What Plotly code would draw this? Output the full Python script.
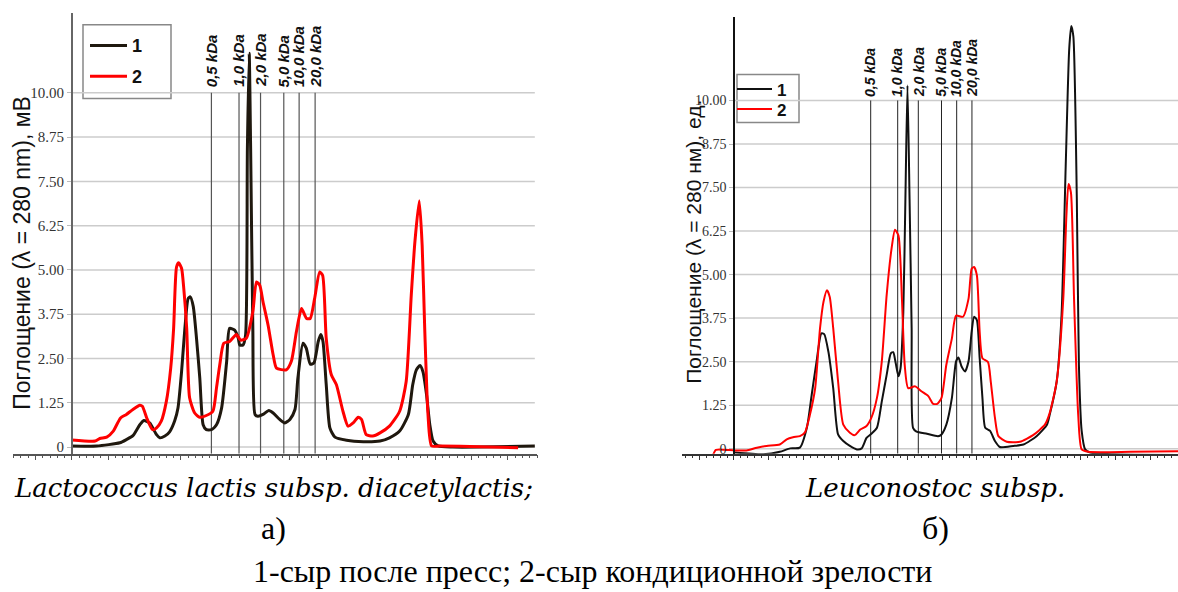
import plotly.graph_objects as go

W, H = 1178, 592

# ---- chromatogram data: retention (min) vs absorbance ----
# Lactococcus lactis subsp. diacetylactis
t_left_1 = [0, 3.4, 6.6, 7.5, 8.4, 9.35, 9.9, 10.7, 11.65, 12.1, 12.8, 13.45, 14.15, 14.6, 15.1,
            15.55, 16.0, 16.3, 16.7, 17.15, 17.6, 18.06, 18.5, 19.2, 19.9, 20.6, 21.3, 21.7, 22.4,
            22.9, 23.1, 23.55, 23.9, 24.15, 24.4, 24.6, 24.9, 25.2, 25.6, 26.3, 27.1, 27.7, 28.6,
            29.3, 30.0, 30.7, 31.1, 31.8, 32.25, 32.8, 33.3, 33.9, 34.25, 34.55, 35.0, 35.5, 36.2,
            37.8, 40.1, 42.4, 43.7, 45.1, 46.3, 46.9, 47.4, 47.9, 48.3, 48.8, 49.25, 49.7, 50.4,
            52.4, 56.1, 63.7]
a_left_1 = [0.03, 0.03, 0.12, 0.21, 0.32, 0.63, 0.75, 0.68, 0.35, 0.26, 0.31, 0.43, 0.74, 1.10, 2.14,
            3.35, 4.19, 4.24, 3.97, 3.07, 1.95, 0.63, 0.49, 0.49, 0.63, 1.10, 2.42, 3.35, 3.30,
            3.07, 2.88, 2.88, 3.16, 8.4, 11.12, 8.4, 3.35, 0.92, 0.87, 0.92, 1.03, 0.96, 0.78,
            0.68, 0.78, 1.06, 1.95, 2.93, 2.79, 2.34, 2.37, 2.98, 3.18, 2.98, 1.76, 0.54, 0.28,
            0.19, 0.15, 0.17, 0.26, 0.45, 0.92, 1.76, 2.18, 2.30, 2.13, 1.48, 0.63, 0.17, 0.03,
            0.0, 0.0, 0.03]

t_left_2 = [0, 3.2, 3.85, 4.8, 5.7, 6.7, 7.5, 8.4, 9.35, 9.7, 10.3, 11.1, 11.65, 12.3, 13.0, 13.6,
            14.0, 14.4, 14.7, 15.1, 15.4, 15.8, 16.2, 16.9, 17.6, 18.5, 19.4, 19.9, 20.35, 20.9,
            21.7, 22.65, 23.2, 24.0, 24.9, 25.4, 25.85, 26.3, 27.0, 27.7, 28.15, 29.5, 30.2, 30.9,
            31.6, 32.3, 32.8, 33.4, 34.1, 34.5, 35.0, 35.7, 36.4, 37.3, 38.0, 38.7, 39.4, 39.85,
            40.5, 41.4, 42.4, 43.7, 45.1, 46.0, 46.7, 47.2, 47.8, 48.2, 48.55, 49.0, 49.5, 50.6,
            56.1, 61.4]
a_left_2 = [0.20, 0.17, 0.24, 0.28, 0.45, 0.82, 0.92, 1.06, 1.18, 1.15, 0.82, 0.49, 0.54, 0.73, 1.29, 2.23,
            3.35, 5.08, 5.20, 5.04, 4.47, 3.35, 1.39, 0.96, 0.84, 0.89, 1.01, 1.67, 2.32, 2.93,
            2.98, 3.18, 3.02, 3.07, 3.82, 4.66, 4.57, 4.10, 3.44, 2.60, 2.23, 2.18, 2.42, 3.26,
            3.91, 3.63, 3.63, 4.19, 4.94, 4.85, 3.07, 2.04, 1.76, 1.01, 0.59, 0.68, 0.84, 0.78,
            0.35, 0.31, 0.40, 0.59, 1.01, 1.85, 4.29, 5.79, 6.95, 5.69, 3.35, 0.92, 0.03, 0.03,
            0.01, -0.02]

# Leuconostoc subsp.
t_right_1 = [0.15, 4.2, 6.6, 8.1, 9.5, 10.5, 11.2, 11.9, 12.6, 13.0, 13.6, 14.3, 15.0, 15.75, 16.7,
             17.7, 18.4, 19.1, 19.8, 20.6, 21.3, 22.0, 22.6, 22.95, 23.3, 23.7, 24.0, 24.4, 24.7,
             25.0, 25.3, 25.6, 25.8, 26.3, 27.8, 29.4, 29.9, 30.6, 31.4, 32.0, 32.35, 32.8, 33.3,
             33.8, 34.25, 34.6, 35.0, 35.4, 35.8, 36.2, 36.9, 37.6, 38.3, 40.25, 41.7, 43.6, 45.1,
             45.5, 46.5, 47.2, 47.8, 48.3, 48.6, 48.9, 49.4, 49.7, 50.1, 50.6, 51.3, 54.7, 64.0]
a_right_1 = [-0.11, -0.16, -0.09, 0.01, 0.03, 0.60, 1.55, 2.51, 3.31, 3.29, 2.79, 1.74, 0.41, 0.22, 0.08,
             -0.02, 0.01, 0.31, 0.43, 0.60, 1.36, 2.12, 2.74, 2.77, 2.46, 2.08, 2.31, 3.93, 7.17,
             10.43, 7.17, 3.46, 0.60, 0.49, 0.43, 0.36, 0.41, 0.69, 1.46, 2.51, 2.62, 2.36, 2.22,
             2.51, 3.36, 3.79, 3.69, 2.60, 1.46, 0.60, 0.51, 0.22, 0.05, 0.08, 0.12, 0.36, 0.69,
             0.98, 1.93, 3.84, 8.12, 11.46, 12.14, 11.84, 7.17, 2.41, 0.51, -0.02, -0.11, -0.16, -0.18]

t_right_2 = [-3.0, -2.6, 0.15, 1.8, 3.3, 4.7, 6.6, 7.6, 8.5, 9.5, 10.2, 10.95, 11.7, 12.4, 12.9, 13.4,
             13.8, 14.3, 15.0, 15.75, 16.7, 17.4, 18.2, 19.1, 19.8, 20.6, 21.3, 22.0, 22.7, 23.2,
             23.7, 24.2, 24.6, 25.1, 26.1, 27.0, 28.0, 28.7, 29.3, 29.9, 30.6, 31.4, 32.0, 33.0,
             33.8, 34.25, 34.6, 35.0, 35.4, 35.8, 36.6, 37.0, 37.6, 38.1, 39.3, 41.2, 43.1, 44.8,
             45.5, 46.5, 47.45, 47.9, 48.2, 48.55, 49.0, 49.6, 50.1, 51.05, 57.1, 64.0]
a_right_2 = [-0.17, -0.03, -0.05, -0.05, 0.03, 0.08, 0.12, 0.27, 0.33, 0.36, 0.46, 0.98, 1.74, 3.46, 4.22, 4.55,
             4.36, 3.46, 1.93, 0.69, 0.46, 0.39, 0.55, 0.65, 0.89, 1.46, 2.51, 4.41, 5.74, 6.29,
             6.12, 4.31, 2.41, 1.74, 1.79, 1.65, 1.51, 1.29, 1.29, 1.46, 2.41, 3.17, 3.82, 3.79,
             4.31, 5.17, 5.22, 4.98, 3.36, 2.60, 2.49, 1.93, 0.89, 0.36, 0.20, 0.20, 0.39, 0.69,
             1.03, 1.93, 4.31, 6.69, 7.60, 7.36, 4.31, 0.98, -0.02, -0.09, -0.09, -0.07]

# molecular-mass calibration marks
kda_labels = ["0,5 kDa", "1,0 kDa", "2,0 kDa", "5,0 kDa", "10,0 kDa", "20,0 kDa"]
kda_left = [19.2, 23.0, 25.96, 29.16, 31.27, 33.47]
kda_right = [19.7, 23.59, 26.56, 29.9, 32.09, 34.29]

y_ticks = [0, 1.25, 2.5, 3.75, 5.0, 6.25, 7.5, 8.75, 10.0]
y_tick_text = ["0", "1.25", "2.50", "3.75", "5.00", "6.25", "7.50", "8.75", "10.00"]

series_names = ["1", "2"]
captions = ["Lactococcus lactis subsp. diacetylactis;", "Leuconostoc subsp."]
panel_marks = ["а)", "б)"]
footnote = "1-сыр после пресс; 2-сыр кондиционной зрелости"


def px(x):
    return x / W


def py(y):
    return 1 - y / H


SANS = "Liberation Sans"
SERIF = "Liberation Serif"
SERIF_IT = "DejaVu Serif"

fig = go.Figure()

# ---- traces (one legend per entry so each row can be placed freely) ----
curves = [
    (t_left_1, a_left_1, series_names[0], "#1f180e", 3, "x", "y", "legend"),
    (t_left_2, a_left_2, series_names[1], "#ff0000", 3, "x", "y", "legend2"),
    (t_right_1, a_right_1, series_names[0], "#111111", 2, "x2", "y2", "legend3"),
    (t_right_2, a_right_2, series_names[1], "#ff0000", 2, "x2", "y2", "legend4"),
]
for xs, ys, name, color, width, xa, ya, lg in curves:
    fig.add_trace(go.Scatter(x=xs, y=ys, mode="lines", name=name, showlegend=True,
                             line=dict(color=color, width=width, shape="spline", smoothing=0.6),
                             xaxis=xa, yaxis=ya, legend=lg))

# ---- axes ----
y_dom = [py(456), py(13)]
y2_dom = [py(456), py(17)]

common_x = dict(showgrid=False, zeroline=False, showticklabels=False, showline=True,
                ticks="outside", tick0=0, dtick=5, ticklen=5, tickwidth=1,
                minor=dict(ticks="outside", dtick=1, ticklen=3, tickwidth=1))

fig.update_layout(
    xaxis=dict(domain=[px(13), px(537)], range=[-8.1, 64.0], anchor="y",
               linecolor="#555555", linewidth=1.5, tickcolor="#555555", **common_x),
    yaxis=dict(domain=y_dom, range=[-0.188, 12.256], anchor="free", position=px(72),
               showgrid=False, zeroline=False, showline=True, linecolor="#666666", linewidth=2,
               tickvals=y_ticks, ticktext=y_tick_text, ticks="outside", ticklen=4,
               tickcolor="#bbbbbb", tickfont=dict(family=SERIF, size=15, color="#333333")),
    xaxis2=dict(domain=[px(682), 1.0], range=[-7.49, 63.98], anchor="y2",
                linecolor="#333333", linewidth=1.5, tickcolor="#333333", **common_x),
    yaxis2=dict(domain=y2_dom, range=[-0.143, 12.4], anchor="free", position=px(734),
                showgrid=False, zeroline=False, showline=True, linecolor="#111111", linewidth=1.5,
                tickvals=y_ticks, ticktext=y_tick_text, ticks="outside", ticklen=4,
                tickcolor="#bbbbbb", tickfont=dict(family=SERIF, size=14, color="#333333")),
)

# ---- horizontal grid, starting at the y axis ----
shapes = []
for v in y_ticks:
    shapes.append(dict(type="line", xref="x", yref="y", x0=0, x1=63.7, y0=v, y1=v,
                       line=dict(color="#cccccc", width=1.5), layer="below"))
    shapes.append(dict(type="line", xref="x2", yref="y2", x0=0, x1=63.98, y0=v, y1=v,
                       line=dict(color="#cccccc", width=1.5), layer="below"))

# ---- kDa calibration lines and labels ----
annotations = []
for lab, xl, xr in zip(kda_labels, kda_left, kda_right):
    shapes.append(dict(type="line", xref="x", yref="y", x0=xl, x1=xl, y0=-0.188, y1=10,
                       line=dict(color="#555555", width=1.2), layer="below"))
    shapes.append(dict(type="line", xref="x2", yref="y2", x0=xr, x1=xr, y0=-0.143, y1=10,
                       line=dict(color="#222222", width=1), layer="below"))
    annotations.append(dict(x=xl, y=10.1, xref="x", yref="y", text=lab, textangle=-90,
                            showarrow=False, xanchor="center", yanchor="bottom",
                            font=dict(family=SANS, size=15, color="#111111",
                                      weight="bold", style="italic")))
    annotations.append(dict(x=xr, y=10.05, xref="x2", yref="y2", text=lab, textangle=-90,
                            showarrow=False, xanchor="center", yanchor="bottom",
                            font=dict(family=SANS, size=14, color="#111111",
                                      weight="bold", style="italic")))

# ---- legend frames ----
shapes.append(dict(type="rect", xref="paper", yref="paper", x0=px(83), x1=px(171),
                   y0=py(99), y1=py(25), line=dict(color="#888888", width=1.5),
                   fillcolor="white", layer="below"))
shapes.append(dict(type="rect", xref="paper", yref="paper", x0=px(737), x1=px(799),
                   y0=py(123), y1=py(75), line=dict(color="#888888", width=1.5),
                   fillcolor="white", layer="below"))

# ---- axis titles ----
annotations.append(dict(x=px(22), y=py(254), xref="paper", yref="paper",
                        text="Поглощение (λ = 280 nm), мВ", textangle=-90, showarrow=False,
                        xanchor="center", yanchor="middle",
                        font=dict(family=SANS, size=23, color="#111111")))
annotations.append(dict(x=px(694), y=py(243), xref="paper", yref="paper",
                        text="Поглощение (λ = 280 нм), ед.", textangle=-90, showarrow=False,
                        xanchor="center", yanchor="middle",
                        font=dict(family=SANS, size=21, color="#111111")))

# ---- captions ----
annotations.append(dict(x=px(273), y=py(490), xref="paper", yref="paper",
                        text="<i>" + captions[0] + "</i>",
                        showarrow=False, xanchor="center", yanchor="middle",
                        font=dict(family=SERIF_IT, size=26, color="#000000")))
annotations.append(dict(x=px(935), y=py(490), xref="paper", yref="paper",
                        text="<i>" + captions[1] + "</i>",
                        showarrow=False, xanchor="center", yanchor="middle",
                        font=dict(family=SERIF_IT, size=26, color="#000000")))
annotations.append(dict(x=px(273), y=py(531), xref="paper", yref="paper", text=panel_marks[0],
                        showarrow=False, xanchor="center", yanchor="middle",
                        font=dict(family=SERIF, size=32, color="#000000")))
annotations.append(dict(x=px(936), y=py(531), xref="paper", yref="paper", text=panel_marks[1],
                        showarrow=False, xanchor="center", yanchor="middle",
                        font=dict(family=SERIF, size=32, color="#000000")))
annotations.append(dict(x=px(592), y=py(574), xref="paper", yref="paper", text=footnote,
                        showarrow=False, xanchor="center", yanchor="middle",
                        font=dict(family=SERIF, size=32, color="#000000")))


def legend_box(x_left, y_mid, size, itemwidth):
    return dict(x=px(x_left), y=py(y_mid), xanchor="left", yanchor="middle",
                bgcolor="rgba(0,0,0,0)", borderwidth=0, itemwidth=itemwidth,
                font=dict(family=SANS, size=size, color="#111111", weight="bold"))


fig.update_layout(
    width=W, height=H, margin=dict(l=0, r=0, t=0, b=0),
    paper_bgcolor="white", plot_bgcolor="rgba(0,0,0,0)", showlegend=True,
    shapes=shapes, annotations=annotations,
    legend=legend_box(85, 46, 18, 37),
    legend2=legend_box(85, 77, 18, 37),
    legend3=legend_box(732, 90, 17, 35),
    legend4=legend_box(732, 110, 17, 35),
)

fig.write_html("out.html")
